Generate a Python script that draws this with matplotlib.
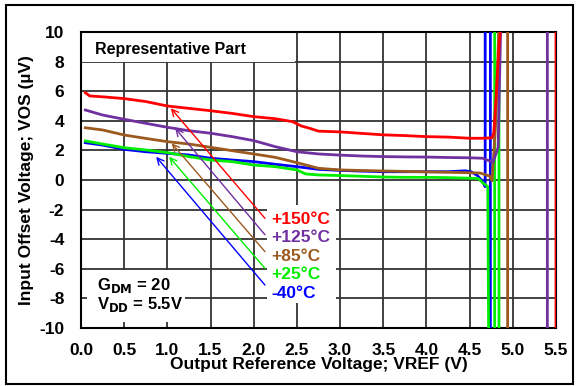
import matplotlib
matplotlib.use("Agg")
import matplotlib.pyplot as plt
from matplotlib.patches import Rectangle

plt.rcParams['font.family'] = ['Liberation Sans', 'DejaVu Sans']
plt.rcParams['font.weight'] = 'bold'
plt.rcParams['axes.unicode_minus'] = False

# curves (V, uV); each ends with its vertical runaway lines
x_150 = [0.05, 0.1, 0.25, 0.5, 0.75, 1.0, 1.25, 1.5, 1.75, 2.0, 2.25, 2.45, 2.55, 2.65, 2.75, 3.0, 3.25,
         3.5, 3.75, 4.0, 4.25, 4.5, 4.65, 4.76, 4.78, 4.81, 4.84, 4.86, 5.5, 5.5]
y_150 = [5.9, 5.68, 5.62, 5.5, 5.3, 5.0, 4.84, 4.68, 4.5, 4.28, 4.14, 3.94, 3.65, 3.49, 3.3, 3.25, 3.15,
         3.05, 3.0, 2.93, 2.9, 2.82, 2.82, 2.85, 3.2, 6.0, 9.0, 10.5, 10.5, -10.5]

x_125 = [0.05, 0.25, 0.5, 0.75, 1.0, 1.25, 1.5, 1.75, 2.0, 2.25, 2.5, 2.75, 3.0, 3.25, 3.5, 3.75, 4.0,
         4.25, 4.5, 4.65, 4.77, 4.83, 4.86, 5.4, 5.4]
y_125 = [4.73, 4.39, 4.1, 3.83, 3.56, 3.33, 3.16, 2.93, 2.66, 2.25, 1.91, 1.76, 1.68, 1.62, 1.58, 1.56, 1.55,
         1.52, 1.5, 1.47, 1.2, 2.2, 10.5, 10.5, -10.5]

x_85 = [0.05, 0.25, 0.5, 0.75, 1.0, 1.25, 1.5, 1.75, 2.0, 2.25, 2.5, 2.75, 3.0, 3.25, 3.5, 3.75, 4.0,
        4.25, 4.5, 4.62, 4.73, 4.76, 4.8, 4.84, 4.94, 4.94]
y_85 = [3.53, 3.38, 3.04, 2.81, 2.59, 2.43, 2.21, 1.98, 1.76, 1.53, 1.17, 0.79, 0.68, 0.64, 0.61, 0.58, 0.55,
        0.52, 0.49, 0.47, 0.27, -0.05, 3.7, 10.5, 10.5, -10.5]

x_25 = [0.05, 0.25, 0.5, 0.75, 1.0, 1.25, 1.5, 1.75, 2.0, 2.25, 2.5, 2.6, 2.75, 3.0, 3.25, 3.5, 3.75,
        4.0, 4.25, 4.5, 4.6, 4.65, 4.71, 4.72, 4.79, 4.79, 4.84, 4.84]
y_25 = [2.64, 2.43, 2.18, 2.03, 1.85, 1.58, 1.35, 1.24, 1.01, 0.9, 0.68, 0.41, 0.34, 0.3, 0.25, 0.2, 0.18,
        0.18, 0.16, 0.12, 0.1, -0.18, -0.45, -10.5, -10.5, 10.5, 10.5, -10.5]

x_m40 = [0.05, 0.25, 0.5, 0.75, 1.0, 1.25, 1.5, 1.75, 2.0, 2.25, 2.5, 2.75, 3.0, 3.25, 3.5, 3.75, 4.0,
         4.25, 4.45, 4.52, 4.59, 4.65, 4.68, 4.68, 4.74, 4.74]
y_m40 = [2.52, 2.36, 2.07, 1.91, 1.8, 1.69, 1.47, 1.35, 1.24, 1.06, 0.9, 0.72, 0.65, 0.6, 0.56, 0.56, 0.56,
         0.56, 0.62, 0.55, 0.3, -0.1, -0.45, 10.5, 10.5, -10.5]

labels = ["+150°C", "+125°C", "+85°C", "+25°C", "-40°C"]
colors = ["#ff0000", "#7030a0", "#9c5a1e", "#00ee00", "#0000ff"]
label_y = [-2.66, -3.9, -5.14, -6.37, -7.66]
arrow_tail_y = [-2.59, -3.7, -4.84, -5.97, -7.1]
arrow_tip = [(1.04, 4.85), (1.09, 3.5), (1.05, 2.48), (1.02, 1.57), (0.87, 1.57)]

fig = plt.figure(figsize=(5.77, 3.86), dpi=100)
ax = fig.add_axes([0.1404, 0.1503, 0.8232, 0.7668])

curves = [(x_m40, y_m40, 4), (x_25, y_25, 3), (x_85, y_85, 2), (x_125, y_125, 1), (x_150, y_150, 0)]
for xs, ys, k in curves:
    ax.plot(xs, ys, color=colors[k], lw=2.0, zorder=3)

ax.set_xlim(0, 5.5)
ax.set_ylim(-10, 10)
ax.set_xticks([i * 0.5 for i in range(12)])
ax.set_xticklabels([f"{i * 0.5:.1f}" for i in range(12)])
ax.set_yticks(range(-10, 11, 2))
ax.tick_params(length=0, labelsize=12.5)
ax.tick_params(axis='x', pad=11)
ax.tick_params(axis='y', pad=12)
ax.set_axisbelow(True)
ax.grid(True, color='#333333', lw=1.3)
for s in ax.spines.values():
    s.set_linewidth(1.5)

ax.set_xlabel("Output Reference Voltage; VREF (V)", fontsize=12.5, fontweight='bold', labelpad=-1)
ax.set_ylabel("Input Offset Voltage; VOS (µV)", fontsize=12.5, fontweight='bold', labelpad=4)

# white boxes behind the text blocks
for (bx, by, bw, bh) in [(0.0, 0.9, 0.45, 0.1), (0.012, 0.021, 0.207, 0.174), (0.392, 0.085, 0.145, 0.33)]:
    ax.add_patch(Rectangle((bx, by), bw, bh, transform=ax.transAxes, fc='white', ec='none', zorder=1))

ax.text(0.16, 8.85, "Representative Part", fontsize=11.5, fontweight='bold', va='center', zorder=4)
ax.text(0.18, -7.15, r"G$_{\mathbf{DM}}$ = 20", fontsize=12, fontweight='bold', va='center', zorder=4)
ax.text(0.18, -8.4, r"V$_{\mathbf{DD}}$ = 5.5V", fontsize=12, fontweight='bold', va='center', zorder=4)

for i in range(5):
    ax.annotate("", xy=arrow_tip[i], xytext=(2.13, arrow_tail_y[i]),
                arrowprops=dict(arrowstyle='->', color=colors[i], lw=1.0, mutation_scale=12,
                                shrinkA=0, shrinkB=0), zorder=4)
    ax.text(2.2, label_y[i], labels[i], color=colors[i], fontsize=12.5, fontweight='bold',
            va='center', ha='left', zorder=4)

fig.add_artist(Rectangle((6 / 577, 2 / 386), 567 / 577, 379 / 386, transform=fig.transFigure,
                         fill=False, ec='black', lw=1.5))

fig.savefig("out.png", dpi=100)
